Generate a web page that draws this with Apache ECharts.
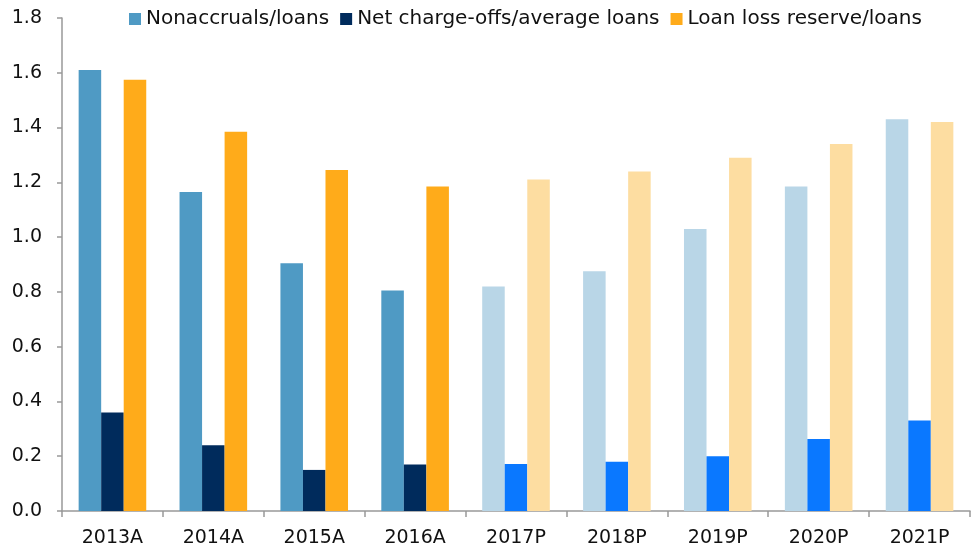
<!DOCTYPE html>
<html>
<head>
<meta charset="utf-8">
<script src="https://cdn.jsdelivr.net/npm/echarts@6/dist/echarts.min.js"></script>
<style>
  html, body { margin: 0; padding: 0; background: #fff; }
  #chart { width: 978px; height: 554px; }
</style>
</head>
<body>
<div id="chart"></div>
<script>
const years = ['2013A', '2014A', '2015A', '2016A', '2017P', '2018P', '2019P', '2020P', '2021P'];
const nonaccruals = [1.61, 1.165, 0.905, 0.805, 0.82, 0.875, 1.03, 1.185, 1.43];
const chargeOffs = [0.36, 0.24, 0.15, 0.17, 0.172, 0.18, 0.20, 0.263, 0.33];
const reserve = [1.575, 1.385, 1.245, 1.185, 1.21, 1.24, 1.29, 1.34, 1.42];
const yTicks = [0, 0.2, 0.4, 0.6, 0.8, 1.0, 1.2, 1.4, 1.6, 1.8];

// actual years in solid colours, projections lighter
function colored(values, actual, projected) {
    return values.map((v, i) => ({
        value: v,
        itemStyle: { color: years[i].endsWith('A') ? actual : projected }
    }));
}

const chart = echarts.init(document.getElementById('chart'));
const font = '"DejaVu Sans", sans-serif';

chart.setOption({
    animation: false,
    textStyle: { fontFamily: font },
    legend: {
        top: 4,
        left: 124,
        itemWidth: 12,
        itemHeight: 12,
        itemGap: 11,
        icon: 'rect',
        textStyle: { fontSize: 20, color: '#111', fontFamily: font }
    },
    grid: { left: 62, right: 8, top: 18, bottom: 43 },
    xAxis: {
        type: 'category',
        data: years,
        axisLine: { lineStyle: { color: '#999', width: 1.5 } },
        axisTick: { show: true, length: 6, lineStyle: { color: '#999', width: 1.5 } },
        axisLabel: { fontSize: 19, color: '#111', margin: 18 }
    },
    yAxis: {
        type: 'value',
        min: 0,
        max: 1.8,
        interval: 0.2,
        axisLine: { show: true, lineStyle: { color: '#999', width: 1.5 } },
        axisTick: { show: true, length: 5, lineStyle: { color: '#999', width: 1.5 } },
        splitLine: { show: false },
        axisLabel: {
            fontSize: 19,
            color: '#111',
            margin: 20,
            formatter: v => yTicks.includes(Math.round(v * 10) / 10) ? v.toFixed(1) : ''
        }
    },
    series: [
        {
            name: 'Nonaccruals/loans',
            type: 'bar',
            barGap: '0%',
            barCategoryGap: '33%',
            itemStyle: { color: '#4f9ac4' },
            data: colored(nonaccruals, '#4f9ac4', '#b9d6e7')
        },
        {
            name: 'Net charge-offs/average loans',
            type: 'bar',
            itemStyle: { color: '#002b5c' },
            data: colored(chargeOffs, '#002b5c', '#0a78ff')
        },
        {
            name: 'Loan loss reserve/loans',
            type: 'bar',
            itemStyle: { color: '#ffab1a' },
            data: colored(reserve, '#ffab1a', '#fddda1')
        }
    ]
});
</script>
</body>
</html>
